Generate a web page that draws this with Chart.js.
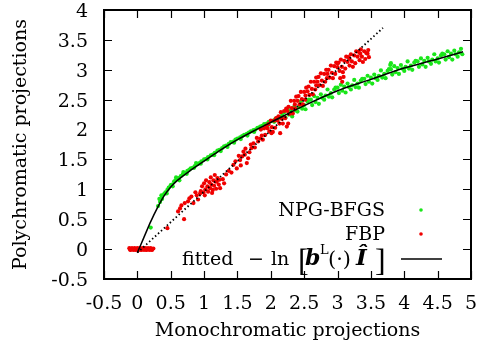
<!DOCTYPE html>
<html>
<head>
<meta charset="utf-8">
<script src="https://cdn.jsdelivr.net/npm/chart.js@4"></script>
<style>
  body { margin: 0; background: #fff; }
  canvas { display: block; }
</style>
</head>
<body>
<canvas id="chart" width="481" height="345"></canvas>
<script>
// Axis ticks
const xTicks = [-0.5, 0, 0.5, 1, 1.5, 2, 2.5, 3, 3.5, 4, 4.5, 5];
const yTicks = [-0.5, 0, 0.5, 1, 1.5, 2, 2.5, 3, 3.5, 4];

// NPG-BFGS reconstruction (green)
const npgPoints = [
  [0.20,0.36],[0.31,0.72],[0.34,0.79],[0.37,0.84],[0.40,0.92],[0.42,0.95],[0.45,0.99],[0.47,1.03],
  [0.50,1.07],[0.52,1.08],[0.55,1.13],[0.57,1.15],[0.60,1.18],[0.62,1.19],[0.65,1.22],[0.68,1.25],
  [0.70,1.27],[0.72,1.27],[0.75,1.31],[0.78,1.33],[0.80,1.35],[0.83,1.36],[0.86,1.39],[0.90,1.42],
  [0.93,1.44],[0.96,1.47],[1.00,1.50],[1.03,1.51],[1.06,1.54],[1.10,1.57],[1.13,1.58],[1.16,1.61],
  [1.20,1.65],[1.23,1.66],[1.27,1.69],[1.30,1.72],[1.33,1.73],[1.37,1.76],[1.40,1.79],[1.44,1.80],
  [1.47,1.83],[1.50,1.85],[1.54,1.87],[1.57,1.89],[1.60,1.91],[1.64,1.93],[1.67,1.95],[1.70,1.97],
  [1.74,1.99],[1.77,2.00],[1.80,2.03],[1.84,2.05],[1.87,2.06],[1.90,2.09],[1.94,2.10],[1.97,2.13],
  [2.00,2.14],[2.04,2.15],[2.07,2.18],[2.10,2.20],[2.14,2.20],[2.17,2.24],
  [0.44,0.93],[0.53,1.05],[0.63,1.15],[0.74,1.26],[0.85,1.36],[0.95,1.43],[1.05,1.50],[1.15,1.57],
  [1.25,1.64],[1.35,1.71],[1.45,1.78],[1.55,1.84],[1.65,1.90],[1.75,1.96],[1.85,2.01],[1.95,2.06],
  [2.05,2.13],[2.15,2.19],[0.33,0.84],[0.36,0.90],[0.58,1.20],[0.69,1.29],[0.88,1.44],
  [2.20,2.29],[2.22,2.20],[2.25,2.35],[2.27,2.25],[2.30,2.32],[2.32,2.22],[2.35,2.38],[2.37,2.32],
  [2.40,2.30],[2.42,2.37],[2.45,2.47],[2.47,2.35],[2.50,2.41],[2.52,2.34],[2.55,2.47],[2.57,2.50],
  [2.60,2.50],[2.62,2.41],[2.65,2.56],[2.67,2.46],[2.70,2.53],[2.72,2.43],[2.75,2.59],[2.77,2.53],
  [2.80,2.50],[2.82,2.57],[2.85,2.67],[2.87,2.55],[2.90,2.61],[2.92,2.54],[2.95,2.67],[2.97,2.70],
  [3.00,2.70],[3.02,2.61],[3.05,2.75],[3.07,2.65],[3.10,2.72],[3.12,2.62],[3.15,2.77],[3.17,2.71],
  [3.20,2.67],[3.22,2.74],[3.25,2.83],[3.27,2.71],[3.30,2.77],[3.32,2.70],[3.35,2.82],[3.37,2.85],
  [3.40,2.85],[3.42,2.76],[3.45,2.90],[3.47,2.80],[3.50,2.87],[3.52,2.77],[3.55,2.92],[3.57,2.86],
  [3.60,2.83],[3.62,2.90],[3.65,2.99],[3.67,2.87],[3.70,2.93],[3.72,2.86],[3.75,2.98],[3.77,3.01],
  [3.80,3.01],[3.82,2.92],[3.85,3.06],[3.87,2.96],[3.90,3.03],[3.92,2.93],[3.95,3.08],[3.97,3.02],
  [4.00,2.98],[4.02,3.05],[4.05,3.14],[4.07,3.02],[4.10,3.07],[4.12,3.00],[4.15,3.12],[4.17,3.15],
  [4.20,3.14],[4.22,3.05],[4.25,3.19],[4.27,3.09],[4.30,3.15],[4.32,3.05],[4.35,3.20],[4.37,3.14],
  [4.40,3.10],[4.42,3.17],[4.45,3.26],[4.47,3.14],[4.50,3.19],[4.52,3.12],[4.55,3.24],[4.57,3.27],
  [4.60,3.26],[4.62,3.17],[4.65,3.31],[4.67,3.21],[4.70,3.27],[4.72,3.17],[4.75,3.32],[4.77,3.26],
  [4.80,3.22],[4.82,3.29],[4.85,3.35],[4.87,3.26],
  [3.80,3.11],[3.79,3.08]
];

// FBP reconstruction (red)
const fbpPoints = [
  [-0.12,0.015],[-0.10,-0.015],[-0.08,0.015],[-0.06,-0.015],[-0.04,0.015],[-0.02,-0.015],[0.00,0.015],
  [0.02,-0.015],[0.04,0.015],[0.06,-0.015],[0.08,0.015],[0.10,-0.015],[0.12,0.015],[0.14,-0.015],
  [0.16,0.015],[0.18,-0.015],[0.20,0.015],[0.22,-0.015],[0.24,0.01],
  [-0.11,-0.01],[-0.07,0.00],[-0.03,-0.01],[0.01,0.00],[0.05,-0.01],[0.09,0.00],[0.13,-0.01],
  [0.17,0.00],[0.21,-0.01],
  [0.45,0.35],[0.61,0.63],[0.64,0.68],[0.70,0.50],[0.71,0.77],[0.76,0.80],[0.81,0.88],[0.84,0.77],
  [0.89,0.90],[0.91,0.83],[0.94,0.93],[0.78,0.85],[0.87,0.95],[0.66,0.73],
  [0.95,0.97],[0.97,1.05],[0.99,0.95],[1.00,1.10],[1.02,1.00],[1.03,1.15],[1.05,1.05],[1.06,0.96],
  [1.08,1.12],[1.09,1.02],[1.10,1.20],[1.11,1.08],[1.13,0.99],[1.14,1.15],[1.15,1.06],[1.17,1.13],
  [1.18,1.01],[1.19,1.13],[1.20,1.19],[1.22,1.08],[1.24,1.02],[1.23,1.16],[1.01,0.90],[1.12,0.94],
  [1.16,1.24],
  [1.28,1.17],[1.33,1.25],[1.37,1.31],[1.41,1.28],[1.30,1.10],
  [1.44,1.41],[1.49,1.35],[1.54,1.49],[1.59,1.63],[1.64,1.44],[1.66,1.52],[1.71,1.69],[1.74,1.77],
  [1.81,1.80],[1.84,1.85],[1.47,1.47],[1.52,1.56],[1.57,1.55],[1.61,1.58],[1.68,1.62],[1.70,1.75],
  [1.76,1.70],[1.79,1.86],[1.62,1.68],[1.55,1.40],
  [1.85,2.00],[1.865,1.90],[1.88,1.83],[1.90,2.02],[1.915,1.91],[1.93,2.06],[1.95,2.02],[1.965,2.09],
  [1.98,1.97],[2.00,2.15],[2.015,2.04],[2.03,1.96],[2.05,2.15],[2.065,2.03],[2.08,2.19],[2.10,2.15],
  [2.115,2.22],[2.13,2.10],[2.15,2.29],[2.165,2.18],[2.18,2.10],[2.20,2.31],[2.215,2.19],[2.23,2.35],
  [2.25,2.31],[2.265,2.38],[2.28,2.26],
  [2.14,1.94],[2.26,2.10],[2.24,2.05],[2.01,1.94],
  [2.30,2.48],[2.315,2.36],[2.33,2.27],[2.35,2.48],[2.365,2.35],[2.38,2.55],[2.40,2.48],[2.415,2.56],
  [2.43,2.42],[2.45,2.63],[2.465,2.51],[2.48,2.42],[2.50,2.63],[2.515,2.50],[2.53,2.70],[2.55,2.64],
  [2.565,2.72],[2.58,2.58],[2.60,2.80],[2.615,2.68],[2.63,2.59],[2.65,2.80],[2.665,2.67],[2.68,2.87],
  [2.70,2.80],[2.715,2.88],[2.73,2.74],[2.75,2.94],[2.765,2.82],[2.78,2.73],[2.80,2.93],[2.815,2.80],
  [2.83,3.00],[2.85,2.93],[2.865,3.00],[2.88,2.87],[2.90,3.07],[2.915,2.95],[2.93,2.86],[2.95,3.06],
  [2.965,2.93],[2.98,3.12],[3.00,3.04],[3.015,3.12],[3.03,2.98],[3.05,3.17],[3.065,3.05],[3.08,2.96],
  [3.10,3.15],[3.115,3.02],[3.13,3.22],[3.15,3.13],[3.165,3.21],[3.18,3.07],[3.20,3.26],[3.215,3.14],
  [3.23,3.05],[3.25,3.24],[3.265,3.11],[3.28,3.31],[3.30,3.22],[3.315,3.30],[3.33,3.16],[3.35,3.34],
  [3.365,3.22],[3.38,3.13],[3.40,3.31],[3.415,3.18],[3.43,3.28],[3.45,3.27],[3.46,3.33],[3.47,3.21],
  [3.04,2.86],[3.07,2.80],[3.09,2.88],
  [2.36,2.42],[2.52,2.57],[2.68,2.74],[2.84,2.86],[3.00,3.10],[3.18,3.18],[3.34,3.27]
];

// Fitted curve -ln[b^L(.)I]
const fitX = [0, 0.05, 0.1, 0.2, 0.3, 0.4, 0.5, 0.6, 0.8, 1.0, 1.25, 1.5, 1.75, 2.0, 2.5, 3.0, 3.5, 4.0, 4.5, 4.88];
const fitY = [-0.06, 0.07, 0.2, 0.46, 0.69, 0.89, 1.04, 1.15, 1.32, 1.47, 1.66, 1.83, 1.98, 2.12, 2.40, 2.65, 2.84, 3.03, 3.18, 3.30];

// Dotted reference line
const diagX = [0, 3.68];
const diagY = [-0.06, 3.70];

const FONT_FAMILY = "'DejaVu Serif', serif";
const BRACKET_FAMILY = "'Liberation Serif', serif";
const FONT_SIZE = 19;
const GREEN = '#19e619';
const RED = '#f00000';

Chart.defaults.font.family = FONT_FAMILY;
Chart.defaults.font.size = FONT_SIZE;
Chart.defaults.color = '#000';

const toXY = pts => pts.map(p => ({ x: p[0], y: p[1] }));
const zipXY = (xs, ys) => xs.map((x, i) => ({ x: x, y: ys[i] }));

// Inward ticks on all four sides plus the frame
const framePlugin = {
  id: 'frame',
  afterDraw(chart) {
    const { ctx, chartArea: a, scales } = chart;
    const len = 8;
    ctx.save();
    ctx.strokeStyle = '#000';
    ctx.lineWidth = 1.2;
    ctx.beginPath();
    scales.x.ticks.forEach(t => {
      const px = Math.round(scales.x.getPixelForValue(t.value)) + 0.5;
      ctx.moveTo(px, a.bottom); ctx.lineTo(px, a.bottom - len);
      ctx.moveTo(px, a.top); ctx.lineTo(px, a.top + len);
    });
    scales.y.ticks.forEach(t => {
      const py = Math.round(scales.y.getPixelForValue(t.value)) + 0.5;
      ctx.moveTo(a.left, py); ctx.lineTo(a.left + len, py);
      ctx.moveTo(a.right, py); ctx.lineTo(a.right - len, py);
    });
    ctx.stroke();
    ctx.lineWidth = 2;
    ctx.strokeRect(a.left, a.top, a.right - a.left, a.bottom - a.top);
    ctx.restore();
  }
};

// Key in the lower right, gnuplot style
const keyPlugin = {
  id: 'key',
  afterDraw(chart) {
    const { ctx, chartArea: a } = chart;
    const textRight = a.right - 86;
    const sampleX = a.right - 50;
    const rows = [a.bottom - 63, a.bottom - 39, a.bottom - 14];
    const normal = FONT_SIZE + 'px ' + FONT_FAMILY;
    ctx.save();
    ctx.fillStyle = '#000';
    ctx.textBaseline = 'alphabetic';
    ctx.textAlign = 'right';
    ctx.font = normal;
    ctx.fillText('NPG-BFGS', textRight, rows[0]);
    ctx.fillText('FBP', textRight, rows[1]);

    // label of the fitted curve, laid out piece by piece (x = offset from label start)
    const start = textRight - 203;
    const pieces = [
      { t: 'fitted', f: normal, x: 0 },
      { t: '\u2212', f: normal, x: 66 },
      { t: 'ln', f: normal, x: 89 },
      { t: '[', f: '32px ' + BRACKET_FAMILY, x: 116, dy: 6 },
      { t: 'b', f: 'bold italic 22px ' + FONT_FAMILY, x: 123 },
      { t: 'L', f: '13px ' + FONT_FAMILY, x: 138, dy: -11 },
      { t: '(\u00b7)', f: '21px ' + FONT_FAMILY, x: 146, dy: 1 },
      { t: '\u00ce', f: 'bold italic 23px ' + FONT_FAMILY, x: 174 },
      { t: ']', f: '32px ' + BRACKET_FAMILY, x: 193, dy: 6 }
    ];
    ctx.textAlign = 'left';
    pieces.forEach(p => {
      ctx.font = p.f;
      ctx.fillText(p.t, start + p.x, rows[2] + (p.dy || 0));
    });

    ctx.fillStyle = GREEN;
    ctx.beginPath(); ctx.arc(sampleX, rows[0] - 6, 1.8, 0, Math.PI * 2); ctx.fill();
    ctx.fillStyle = RED;
    ctx.beginPath(); ctx.arc(sampleX, rows[1] - 6, 1.8, 0, Math.PI * 2); ctx.fill();
    ctx.strokeStyle = '#000';
    ctx.lineWidth = 1.5;
    ctx.beginPath();
    ctx.moveTo(sampleX - 20, rows[2] - 6);
    ctx.lineTo(sampleX + 21, rows[2] - 6);
    ctx.stroke();
    ctx.restore();
  }
};

new Chart(document.getElementById('chart').getContext('2d'), {
  type: 'scatter',
  data: {
    datasets: [
      {
        label: 'NPG-BFGS',
        data: toXY(npgPoints),
        backgroundColor: GREEN,
        borderWidth: 0,
        pointRadius: 2.1,
        order: 4
      },
      {
        label: 'FBP',
        data: toXY(fbpPoints),
        backgroundColor: RED,
        borderWidth: 0,
        pointRadius: 2.1,
        order: 3
      },
      {
        label: 'fitted',
        data: zipXY(fitX, fitY),
        showLine: true,
        borderColor: '#000',
        borderWidth: 1.5,
        pointRadius: 0,
        cubicInterpolationMode: 'monotone',
        order: 2
      },
      {
        label: 'diagonal',
        data: zipXY(diagX, diagY),
        showLine: true,
        borderColor: '#000',
        borderWidth: 1.8,
        borderDash: [1.5, 2.5],
        pointRadius: 0,
        order: 1
      }
    ]
  },
  options: {
    responsive: false,
    devicePixelRatio: 1,
    animation: false,
    layout: { padding: { top: 10, right: 10, left: 0, bottom: 0 } },
    plugins: { legend: { display: false }, tooltip: { enabled: false } },
    scales: {
      x: {
        type: 'linear',
        min: -0.5,
        max: 5,
        afterBuildTicks: s => { s.ticks = xTicks.map(v => ({ value: v })); },
        afterFit: s => { s.height = 66; s.paddingLeft = 0; s.paddingRight = 0; },
        ticks: { padding: 14, maxRotation: 0, autoSkip: false, callback: v => String(v) },
        grid: { display: false, drawTicks: false },
        border: { display: false },
        title: { display: true, text: 'Monochromatic projections', padding: { top: 0, bottom: 3 } }
      },
      y: {
        type: 'linear',
        min: -0.5,
        max: 4,
        afterBuildTicks: s => { s.ticks = yTicks.map(v => ({ value: v })); },
        afterFit: s => { s.width = 104; s.paddingTop = 0; s.paddingBottom = 0; },
        ticks: { padding: 16, labelOffset: 2, autoSkip: false, callback: v => String(v) },
        grid: { display: false, drawTicks: false },
        border: { display: false },
        title: { display: true, text: 'Polychromatic projections', padding: { top: 10, bottom: 0 } }
      }
    }
  },
  plugins: [framePlugin, keyPlugin]
});
</script>
</body>
</html>
